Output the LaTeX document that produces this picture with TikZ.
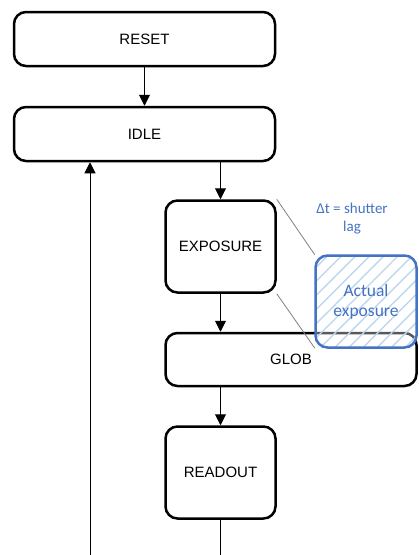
\documentclass[tikz,border=0pt]{standalone}
\usepackage{fontspec}
\setmainfont{Liberation Sans}
\newfontfamily\lagfont{Carlito}
\usetikzlibrary{arrows.meta}
\usetikzlibrary{patterns.meta}
\definecolor{actblue}{RGB}{68,114,196}
\definecolor{hatchblue}{RGB}{189,215,238}
\tikzset{
  state/.style={draw, line width=2.5pt, rounded corners=12pt, align=center,
    font=\fontsize{15}{18}\selectfont},
  flow/.style={line width=1pt, -{Triangle[width=11pt,length=11pt]}},
  lagline/.style={black!50, line width=0.8pt},
  actual/.style={draw=actblue, line width=2.5pt, rounded corners=12pt,
    minimum width=101pt, minimum height=92pt, align=center, text=actblue,
    font=\lagfont\fontsize{17.5}{20}\selectfont,
    preaction={fill=white, fill opacity=0.35},
    pattern={Lines[angle=45,distance=10pt,line width=1.4pt]}, pattern color=hatchblue},
}

\begin{document}
\begin{tikzpicture}[x=1pt, y=-1pt]
      \useasboundingbox (0, 0) rectangle (419, 555);

      \node [state, minimum width=261pt, minimum height=54pt] (reset) at (144.5, 39) {RESET};
      \node [state, minimum width=261pt, minimum height=54pt] (idle) at (144.5, 134) {IDLE};
      \node [state, minimum width=110pt, minimum height=92pt] (exposure) at (220.5, 246.5) {EXPOSURE};
      \node [state, minimum width=251pt, minimum height=53pt] (glob) at (291, 359.5) {GLOB};
      \node [state, minimum width=110pt, minimum height=92pt] (readout) at (220.5, 472.5) {READOUT};

      \node [actual] (act) at (366, 301.5) {Actual\\exposure};
      \node [text=actblue, align=center, font=\lagfont\fontsize{15}{18}\selectfont] (lag) at (352, 219) {Δt = shutter\\lag};

      \coordinate (back) at (90, 555);
      \coordinate (out) at (220.5, 555);

      \draw [flow] (reset) -- (idle);
      \draw [flow] (exposure.north |- idle.south) -- (exposure.north);
      \draw [flow] (exposure.south) -- (exposure.south |- glob.north);
      \draw [flow] (readout.north |- glob.south) -- (readout.north);
      \draw [line width=1pt] (readout.south) -- (out);
      \draw [flow] (back) -- (back |- idle.south);

      \draw [lagline] (exposure.north east) -- (act.north west);
      \draw [lagline] (exposure.south east) -- (act.south west);
    \end{tikzpicture}
\end{document}
